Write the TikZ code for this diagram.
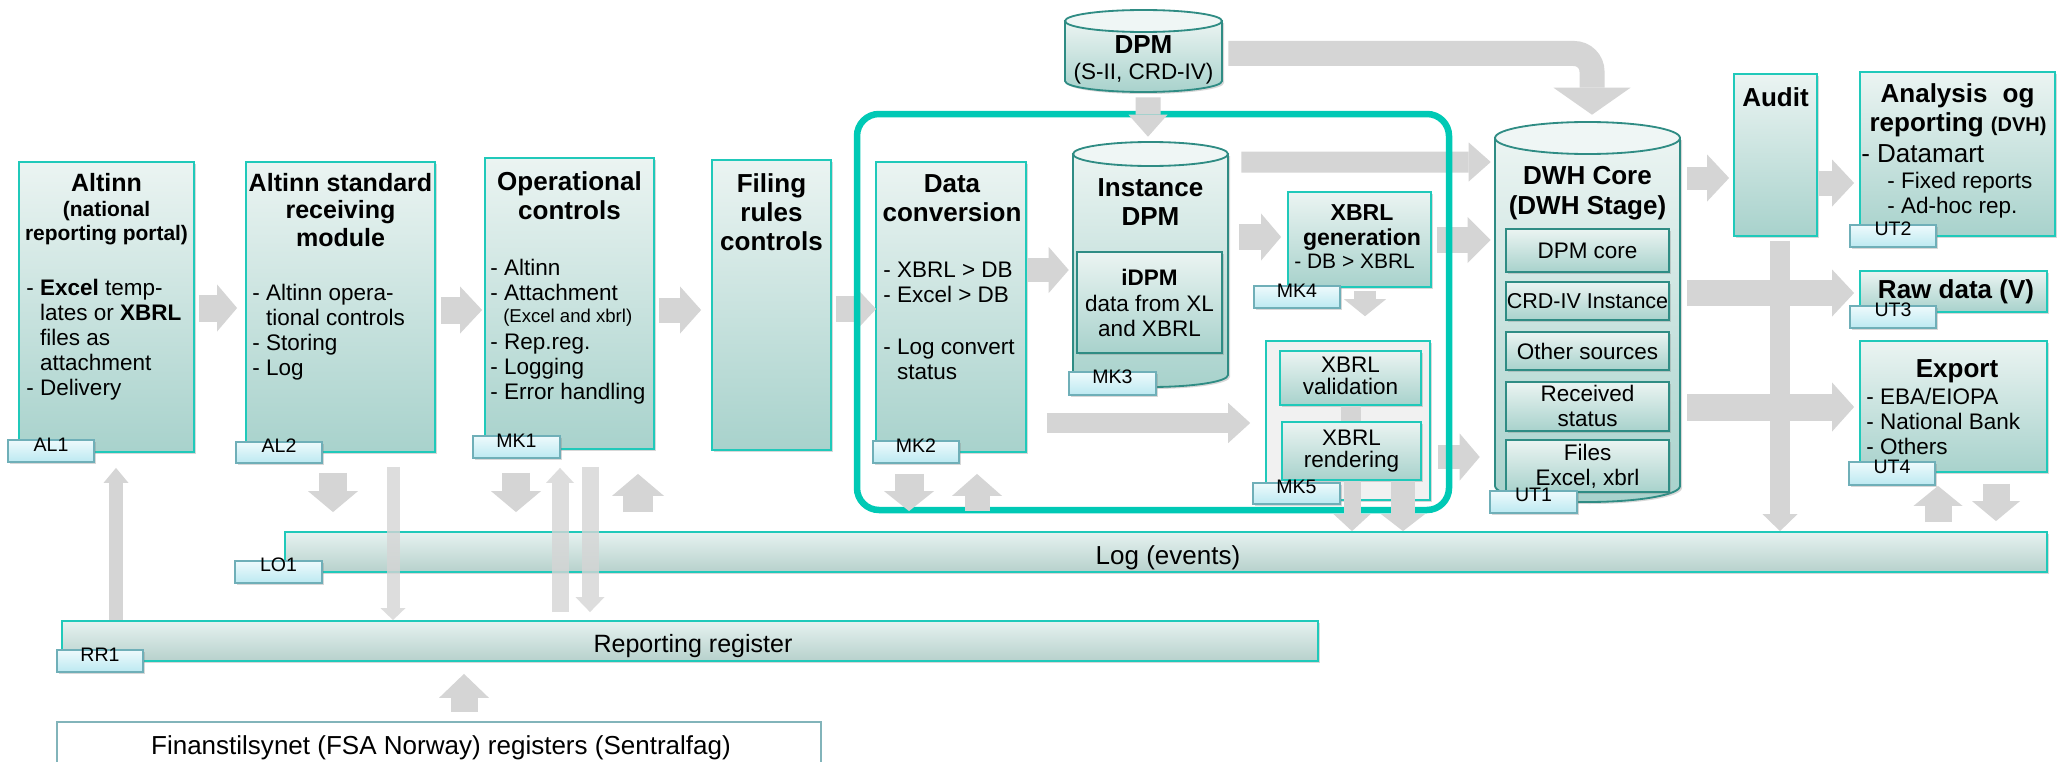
\documentclass[tikz,border=0pt]{standalone}
\usepackage{fontspec}
\setmainfont{Liberation Sans}
\usetikzlibrary{arrows.meta,fit,shadows,calc}
\newdimen\zpx \zpx=0.025cm
\newcommand\zT{\fontsize{18.5}{20.6}\selectfont\bfseries}
\newcommand\zTa{\fontsize{17.8}{19.6}\selectfont\bfseries}
\newcommand\zB{\fontsize{16}{17.8}\selectfont}
\newcommand\zS{\fontsize{13.2}{15}\selectfont}
\newcommand\zG{\fontsize{13.9}{15}\selectfont}
\newcommand\zL{\fontsize{18.5}{20}\selectfont}
\newcommand\zN{\fontsize{14.9}{17.1}\selectfont\bfseries}
\newcommand\zX{\fontsize{16.4}{17.8}\selectfont\bfseries}
\newcommand\zXs{\fontsize{14.9}{17}\selectfont}
\newcommand\zV{\fontsize{16}{15.6}\selectfont}
\newcommand\zD{\fontsize{18.5}{21.3}\selectfont\bfseries}
\newcommand\zR{\fontsize{17.8}{20}\selectfont}
\newcommand\zC{\fontsize{15.3}{17}\selectfont}
\newcommand\zDV{\fontsize{14.2}{16}\selectfont}
\newcommand\zI{\phantom{- }}
\definecolor{tealb}{HTML}{20C9BA}
\definecolor{tealdark}{HTML}{2F8C84}
\definecolor{framec}{HTML}{00C9B5}
\definecolor{boxtop}{HTML}{EBF4F2}
\definecolor{boxbot}{HTML}{A8D2CC}
\definecolor{cyltopc}{HTML}{EFF6F5}
\definecolor{tagtop}{HTML}{EEFAFC}
\definecolor{tagbot}{HTML}{BCE9F1}
\definecolor{tagb}{HTML}{6FAFB8}
\definecolor{bartop}{HTML}{E6F2F0}
\definecolor{barbot}{HTML}{B7D1CC}
\definecolor{arrowgray}{HTML}{D5D5D5}
\definecolor{fingray}{HTML}{82B4BA}
\definecolor{contfill}{HTML}{F1F1F1}
\tikzset{
  fat/.code n args={3}{%
    \pgfmathsetlengthmacro\fatw{#1*\zpx}%
    \pgfmathsetlengthmacro\fath{#2*\zpx}%
    \pgfmathsetlengthmacro\fatl{#3*\zpx}%
    \edef\fatopts{draw=arrowgray, line width=\fatw, -{Triangle[length=\fatl, width=\fath, line width=0pt 0 0]}}%
    \expandafter\pgfkeysalso\expandafter{\fatopts}},
  shad/.style={drop shadow={shadow xshift=2\zpx, shadow yshift=-2\zpx, opacity=0.3}},
  box/.style={draw=tealb, line width=1.3pt, top color=boxtop, bottom color=boxbot, shad, inner sep=0pt},
  ibox/.style={draw=tealdark, line width=1.3pt, top color=boxtop, bottom color=boxbot, shad, inner sep=0pt},
  tag/.style={draw=tagb, line width=1.2pt, top color=tagtop, bottom color=tagbot, shad, inner sep=0pt, font=\zG},
  bar/.style={draw=tealb, line width=1.3pt, top color=bartop, bottom color=barbot, shad, inner sep=0pt},
  cyl/.style={draw=tealdark, line width=1.3pt, top color=boxtop, bottom color=boxbot, shad},
  cyltop/.style={draw=tealdark, line width=1.3pt, fill=cyltopc},
  tx/.style={inner sep=0pt, text=black},
}
\begin{document}
\begin{tikzpicture}[x=0.025cm, y=0.025cm]
\useasboundingbox (0,0) rectangle (2057,-762);
\fill[white] (0,0) rectangle (2057,-762);

% ---------- bars ----------
\node[draw=fingray, line width=2.1pt, fill=white, inner sep=0pt, fit={(57,-722)(821,-768)}] (fin) {};
\node[bar, fit={(62,-621)(1318,-661)}] (rr) {};
\node[bar, fit={(285,-532)(2047,-572)}] (log) {};

% ---------- boxes ----------
\node[box, fit={(19,-162)(194,-452)}] (al1) {};
\node[box, fit={(246,-162)(435,-452)}] (al2) {};
\node[box, fit={(485,-158)(654,-449)}] (mk1) {};
\node[box, fit={(712,-160)(831,-450)}] (filing) {};
\node[box, fit={(876,-162)(1026,-452)}] (dc) {};
\node[box, fit={(1288,-192)(1431,-287)}] (xgen) {};
\node[draw=tealb, line width=1.1pt, fill=contfill, shad, inner sep=0pt, fit={(1266,-341)(1430,-500)}] (cont) {};
\node[box, fit={(1280,-351)(1421,-405)}] (xval) {};
\node[box, fit={(1282,-422)(1421,-480)}] (xrend) {};
\node[box, fit={(1734,-74)(1817,-236)}] (audit) {};
\node[box, fit={(1860,-72)(2055,-236)}] (analysis) {};
\node[box, fit={(1860,-271)(2047,-312)}] (raw) {};
\node[box, fit={(1860,-341)(2047,-472)}] (export) {};

% ---------- cylinders ----------
\node[inner sep=0pt, fit={(1065,-10)(1222,-92)}] (dpm) {};
\path[cyl] (1065,-21) -- (1065,-81) arc[start angle=180, end angle=360, x radius=78.5, y radius=11] -- (1222,-21) -- cycle;
\path[cyltop] (1143.5,-21) ellipse[x radius=78.5, y radius=11];

\node[inner sep=0pt, fit={(1073,-142)(1228,-387)}] (inst) {};
\path[cyl] (1073,-154) -- (1073,-375) arc[start angle=180, end angle=360, x radius=77.5, y radius=12] -- (1228,-154) -- cycle;
\path[cyltop] (1150.5,-154) ellipse[x radius=77.5, y radius=12];
\node[ibox, fit={(1077,-252)(1222,-353)}] (idpm) {};

\node[inner sep=0pt, fit={(1495,-122)(1680,-502)}] (dwh) {};
\path[cyl] (1495,-138) -- (1495,-486) arc[start angle=180, end angle=360, x radius=92.5, y radius=16] -- (1680,-138) -- cycle;
\path[cyltop] (1587.5,-138) ellipse[x radius=92.5, y radius=16];
\node[ibox, fit={(1506,-229)(1669,-272)}] (dpmcore) {};
\node[ibox, fit={(1506,-282)(1669,-320)}] (crd) {};
\node[ibox, fit={(1506,-332)(1669,-370)}] (other) {};
\node[ibox, fit={(1506,-382)(1669,-431)}] (recv) {};
\node[ibox, fit={(1506,-440)(1669,-492)}] (files) {};

% ---------- texts ----------
\node[tx, font=\zTa] (al1t) at (106.5,-183) {Altinn};
\node[tx, font=\zN, align=center, anchor=north] (al1s) at (106.5,-201) {(national\\reporting portal)};
\node[tx, font=\zB, align=left, anchor=north west] (al1b) at (26,-279) {- \textbf{Excel} temp-\\\zI lates or \textbf{XBRL}\\\zI files as\\\zI attachment\\- Delivery};

\node[tx, font=\zTa, align=center, anchor=north] (al2t) at (340.5,-173) {Altinn standard\\receiving\\module};
\node[tx, font=\zB, align=left, anchor=north west] (al2b) at (252,-284) {- Altinn opera-\\\zI tional controls\\- Storing\\- Log};

\node[tx, font=\zT, align=center, anchor=north] (mk1t) at (569.5,-171) {Operational\\controls};
\node[tx, font=\zB, align=left, anchor=north west] (mk1b) at (490,-259) {- Altinn\\- Attachment};
\node[tx, font=\zS, anchor=west] (mk1s) at (503,-318) {(Excel and xbrl)};
\node[tx, font=\zB, align=left, anchor=north west] (mk1c) at (490,-334) {- Rep.reg.\\- Logging\\- Error handling};

\node[tx, font=\zT, align=center, anchor=north] (filt) at (771.5,-173) {Filing\\rules\\controls};

\node[tx, font=\zT, align=center, anchor=north] (dct) at (952,-174) {Data\\conversion};
\node[tx, font=\zB, align=left, anchor=north west] (dcb) at (883,-262) {- XBRL > DB\\- Excel > DB};
\node[tx, font=\zB, align=left, anchor=north west] (dcc) at (883,-339) {- Log convert\\\zI status};

\node[tx, font=\zT] (dpmt) at (1143.5,-45) {DPM};
\node[tx, font=\zB] (dpms) at (1143.5,-74) {(S-II, CRD-IV)};

\node[tx, font=\zT, align=center, anchor=north] (instt) at (1150.5,-178) {Instance\\DPM};
\node[tx, font=\zB\bfseries] (idpmt) at (1149.5,-277) {iDPM};
\node[tx, font=\zB, align=center, anchor=north] (idpmb) at (1149.5,-295) {data from XL\\and XBRL};

\node[tx, font=\zX, align=center, anchor=north] (xgent) at (1362,-204) {XBRL\\generation};
\node[tx, font=\zXs, anchor=west] (xgenb) at (1294,-261) {- DB > XBRL};
\node[tx, font=\zV, align=center, anchor=north] (xvalt) at (1350.5,-357) {XBRL\\validation};
\node[tx, font=\zV, align=center, anchor=north] (xrendt) at (1351.5,-430) {XBRL\\rendering};

\node[tx, font=\zD, align=center, anchor=north] (dwht) at (1587.5,-166) {DWH Core\\(DWH Stage)};
\node[tx, font=\zB] (dpmcoret) at (dpmcore) {DPM core};
\node[tx, font=\zC] (crdt) at (crd) {CRD-IV Instance};
\node[tx, font=\zB] (othert) at (other) {Other sources};
\node[tx, font=\zB, align=center, anchor=north] (recvt) at (1587.5,-385) {Received\\status};
\node[tx, font=\zB, align=center, anchor=north] (filest) at (1587.5,-444) {Files\\Excel, xbrl};

\node[tx, font=\zT] (auditt) at (1775.5,-97) {Audit};
\node[tx, font=\zT, anchor=base] (anat1) at (1957.5,-102) {Analysis\hspace{0.3em} og};
\node[tx, font=\zT, anchor=base] (anat2) at (1958,-132) {reporting {\zDV (DVH)}};
\node[tx, font=\zL, anchor=base west] (anab1) at (1861,-162) {- Datamart};
\node[tx, font=\zB, align=left, anchor=north west] (anab2) at (1887,-172) {- Fixed reports\\- Ad-hoc rep.};
\node[tx, font=\zT, anchor=base] (rawt) at (1956,-298) {Raw data (V)};
\node[tx, font=\zT, anchor=base] (expt) at (1957,-377) {Export};
\node[tx, font=\zB, align=left, anchor=north west] (expb) at (1866,-388) {- EBA/EIOPA\\- National Bank\\- Others};

\node[tx, font=\zL, anchor=base] (logt) at (1168,-564) {Log (events)};
\node[tx, font=\zR, anchor=base] (rrt) at (693,-652) {Reporting register};
\node[tx, font=\zL, anchor=base] (fint) at (441,-754) {Finanstilsynet (FSA Norway) registers (Sentralfag)};

% ---------- arrows (behind frame) ----------
\draw[fat={27}{47}{20}] ([xshift=4\zpx,yshift=-1\zpx]al1.east) -- ([xshift=-8\zpx,yshift=-1\zpx]al2.west);
\draw[fat={27}{47}{22}] ([xshift=5\zpx,yshift=-3\zpx]al2.east) -- ([xshift=-2\zpx,yshift=-6.5\zpx]mk1.west);
\draw[fat={25}{47}{21}] ([xshift=4\zpx,yshift=-6.5\zpx]mk1.east) -- ([xshift=-10\zpx,yshift=-5\zpx]filing.west);
\draw[fat={26}{45}{21}] ([xshift=4\zpx,yshift=-4\zpx]filing.east) -- ([xshift=1\zpx,yshift=-2\zpx]dc.west);
\draw[fat={24}{46}{20}] ([yshift=37\zpx]dc.east) -- ([xshift=-4\zpx,yshift=-5.5\zpx]inst.west);
\draw[fat={26}{47}{20}] ([xshift=11\zpx,yshift=27.5\zpx]inst.east) -- ([xshift=-6\zpx,yshift=2.5\zpx]xgen.west);
\draw[fat={21}{39}{22}] ([xshift=13\zpx,yshift=102.5\zpx]inst.east) -- ([xshift=-4\zpx,yshift=150\zpx]dwh.west);
\draw[fat={26}{46}{23}] ([xshift=5\zpx,yshift=-0.5\zpx]xgen.east) -- ([xshift=-4\zpx,yshift=72\zpx]dwh.west);
\draw[fat={24}{47}{20}] ([xshift=7\zpx,yshift=-36.5\zpx]cont.east) -- ([xshift=-15\zpx,yshift=-145\zpx]dwh.west);
\draw[fat={20}{40}{22}] ([xshift=20\zpx,yshift=-116\zpx]dc.east) -- ([xshift=-15\zpx,yshift=-2.5\zpx]cont.west);
\draw[draw=arrowgray, line width=20\zpx] (xval.south) -- (xval.south |- xrend.north);

% ---------- frame ----------
\node[draw=framec, line width=6.5\zpx, rounded corners=22\zpx, inner sep=0pt, fit={(857,-114)(1449,-510)}] (frame) {};

% ---------- other arrows ----------
\draw[fat={25}{39}{22}] ([xshift=4.5\zpx,yshift=-5\zpx]dpm.south) -- ([xshift=-2.5\zpx,yshift=5\zpx]inst.north);
\coordinate (bs) at ([xshift=6\zpx,yshift=-2.5\zpx]dpm.east);
\coordinate (bc) at (bs -| dwh.north);
\draw[fat={25}{77}{27}, rounded corners=18\zpx] (bs) -- ([xshift=4.5\zpx]bc) -- ([xshift=4.5\zpx,yshift=7\zpx]dwh.north);

\draw[fat={23}{47}{22}] ([xshift=7\zpx,yshift=134\zpx]dwh.east) -- ([xshift=-4\zpx,yshift=-23\zpx]audit.west);
\draw[fat={25}{47}{22}] ([xshift=1\zpx,yshift=-28\zpx]audit.east) -- ([xshift=-5\zpx,yshift=-29\zpx]analysis.west);
\draw[fat={26}{47}{22}] ([xshift=7\zpx,yshift=19\zpx]dwh.east) -- ([xshift=-5\zpx,yshift=-1.5\zpx]raw.west);
\draw[fat={27}{49}{22}] ([xshift=7\zpx,yshift=-95\zpx]dwh.east) -- ([xshift=-5\zpx,yshift=-0.5\zpx]export.west);
\coordinate (c17) at ([xshift=4.5\zpx,yshift=-4\zpx]audit.south);
\draw[fat={20}{35}{17}] (c17) -- (c17 |- log.north);

\coordinate (c18) at ([xshift=5.5\zpx,yshift=-3\zpx]xgen.south);
\draw[fat={22}{42}{17}, shorten >=24\zpx] (c18) -- (c18 |- cont.north);
\coordinate (c19) at ([xshift=0.5\zpx]xrend.south);
\draw[fat={17}{37}{17}] (c19) -- (c19 |- log.north);
\coordinate (c20) at ([xshift=51.5\zpx]xrend.south);
\draw[fat={24}{44}{17}] (c20) -- (c20 |- log.north);

\coordinate (c21) at ([xshift=-7.5\zpx,yshift=-20\zpx]al2.south);
\draw[fat={28}{50}{21}, shorten >=19\zpx] (c21) -- (c21 |- log.north);
\coordinate (c22) at ([xshift=52.5\zpx,yshift=-14\zpx]al2.south);
\draw[fat={13}{25}{12}, opacity=0.8] (c22) -- (c22 |- rr.north);
\coordinate (c23) at ([xshift=-53.5\zpx,yshift=-23\zpx]mk1.south);
\draw[fat={28}{50}{21}, shorten >=19\zpx] (c23) -- (c23 |- log.north);
\coordinate (c24) at ([xshift=-9.5\zpx,yshift=-18\zpx]mk1.south);
\draw[fat={17}{28}{15}, shorten <=8\zpx, opacity=0.8] (c24 |- rr.north) -- (c24);
\coordinate (c25) at ([xshift=20.5\zpx,yshift=-17\zpx]mk1.south);
\draw[fat={17}{29}{15}, shorten >=8\zpx, opacity=0.8] (c25) -- (c25 |- rr.north);
\coordinate (c26) at ([xshift=68.5\zpx,yshift=-24\zpx]mk1.south);
\draw[fat={30}{52}{22}, shorten <=19\zpx] (c26 |- log.north) -- (c26);
\coordinate (c27) at ([xshift=-42\zpx,yshift=-21\zpx]dc.south);
\draw[fat={29}{50}{20}, shorten >=20\zpx] (c27) -- (c27 |- log.north);
\coordinate (c28) at ([xshift=26\zpx,yshift=-21\zpx]dc.south);
\draw[fat={25}{50}{22}, shorten <=20\zpx] (c28 |- log.north) -- (c28);
\coordinate (c29) at ([xshift=9.5\zpx,yshift=-15\zpx]al1.south);
\draw[fat={14}{25}{15}] (c29 |- rr.north) -- (c29);
\coordinate (c30) at ([xshift=25\zpx]fin.north);
\draw[fat={27}{50}{24}, shorten <=9\zpx, shorten >=12\zpx] (c30) -- (c30 |- rr.south);
\coordinate (c31) at ([xshift=-15.5\zpx,yshift=-13\zpx]export.south);
\draw[fat={27}{49}{20}, shorten <=9\zpx] (c31 |- log.north) -- (c31);
\coordinate (c32) at ([xshift=42.5\zpx,yshift=-11\zpx]export.south);
\draw[fat={27}{48}{20}, shorten >=10\zpx] (c32) -- (c32 |- log.north);

% ---------- tags ----------
\node[tag, fit={(8,-440)(94,-462)}] (tAL1) {AL1};
\node[tag, fit={(236,-442)(322,-463)}] (tAL2) {AL2};
\node[tag, fit={(473,-436)(560,-458)}] (tMK1) {MK1};
\node[tag, fit={(873,-441)(959,-463)}] (tMK2) {MK2};
\node[tag, fit={(1069,-372)(1156,-395)}] (tMK3) {MK3};
\node[tag, fit={(1254,-286)(1340,-308)}] (tMK4) {MK4};
\node[tag, fit={(1253,-483)(1340,-504)}] (tMK5) {MK5};
\node[tag, fit={(1490,-491)(1577,-513)}] (tUT1) {UT1};
\node[tag, fit={(1850,-225)(1936,-247)}] (tUT2) {UT2};
\node[tag, fit={(1850,-306)(1936,-328)}] (tUT3) {UT3};
\node[tag, fit={(1849,-462)(1935,-485)}] (tUT4) {UT4};
\node[tag, fit={(235,-561)(322,-583)}] (tLO1) {LO1};
\node[tag, fit={(57,-650)(143,-672)}] (tRR1) {RR1};
\end{tikzpicture}
\end{document}
